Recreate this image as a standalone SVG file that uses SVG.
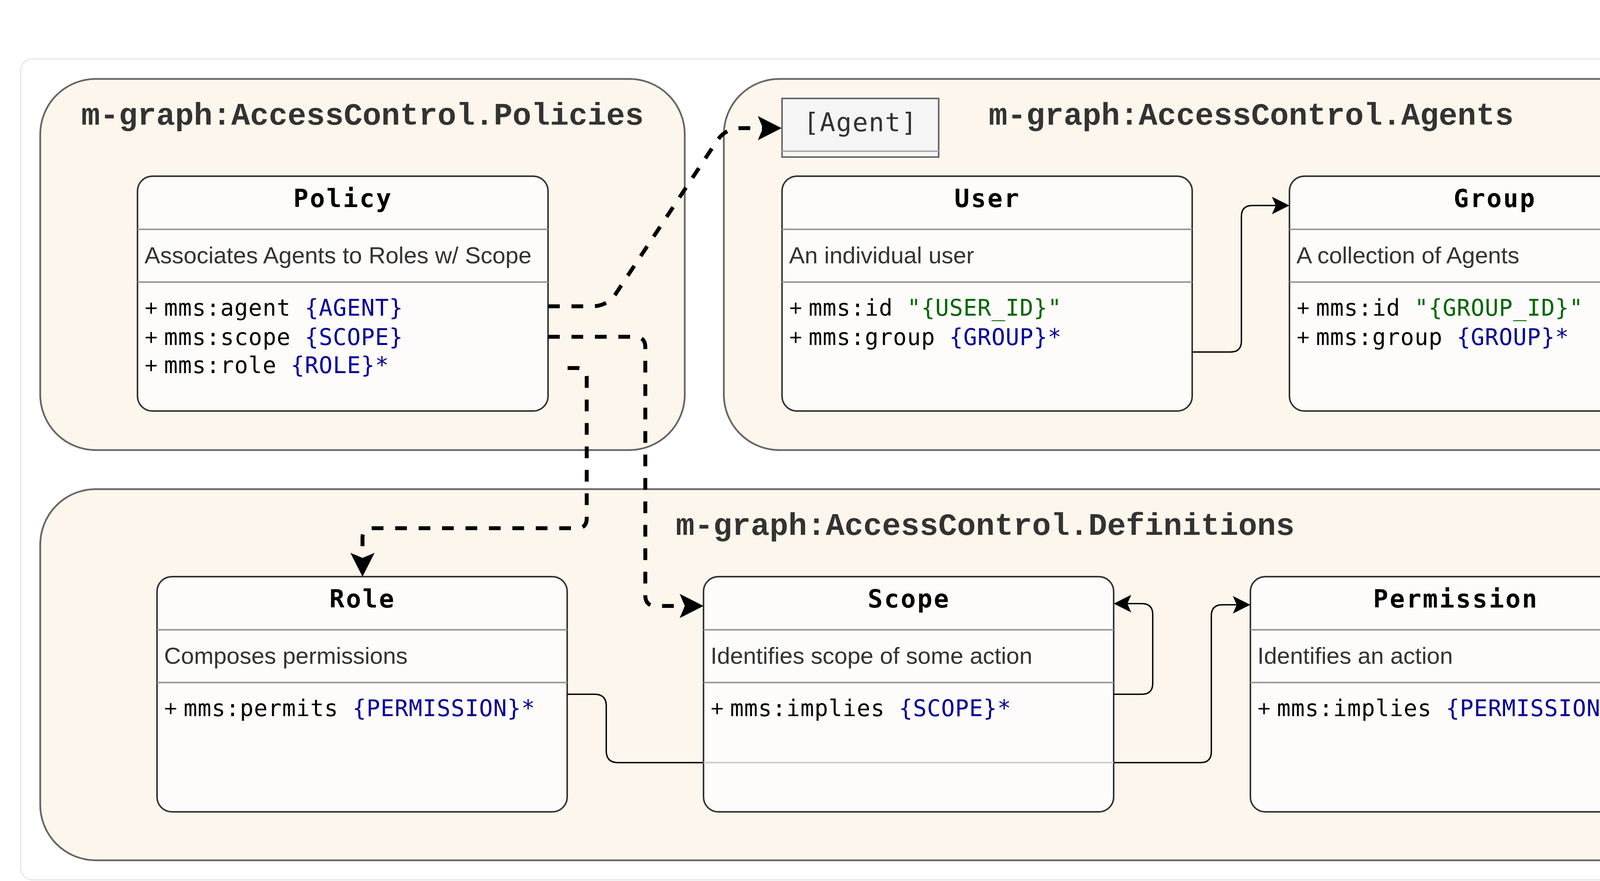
<svg xmlns="http://www.w3.org/2000/svg" width="4605" height="2255" viewBox="0 0 4605 2255">
<defs>
<style>
.frame{fill:#fff;stroke:#e6e6e6;stroke-width:3}
.container{fill:#fdf6ec;stroke:#666;stroke-width:4.5}
.title{font-family:"Liberation Mono","Courier New",monospace;font-weight:bold;font-size:80px;fill:#333}
.box{fill:#fdfcfa;stroke:#333;stroke-width:4}
.sep{stroke:#999;stroke-width:4}
.sep2{stroke:#ccc;stroke-width:4}
.hdr{font-family:"DejaVu Sans Mono",monospace;font-weight:bold;font-size:64px;letter-spacing:3.8px;fill:#000;text-anchor:middle}
.desc{font-family:"Liberation Sans",Arial,sans-serif;font-size:60px;fill:#333}
.attr{font-family:"DejaVu Sans Mono",monospace;font-size:58px;letter-spacing:1.1px;fill:#000}
.plus{font-family:"Liberation Sans",Arial,sans-serif;letter-spacing:0px}
.ref{fill:#000099}
.str{fill:#006600}
.dash{fill:none;stroke:#000;stroke-width:10;stroke-dasharray:30 30}
.solid{fill:none;stroke:#000;stroke-width:3.5}
.agentbox{fill:#f5f5f5;stroke:#666;stroke-width:4}
.agenttxt{font-family:"DejaVu Sans Mono",monospace;font-size:66px;letter-spacing:2px;fill:#333;text-anchor:middle}
</style>
<marker id="bigArrow" markerUnits="userSpaceOnUse" viewBox="-30 -40 90 80" markerWidth="90" markerHeight="80" refX="0" refY="0" orient="auto">
<path d="M48,0 L-13,-31 L0,0 L-13,31 Z" fill="#000"/>
</marker>
<marker id="smallArrow" markerUnits="userSpaceOnUse" viewBox="-20 -30 70 60" markerWidth="70" markerHeight="60" refX="0" refY="0" orient="auto">
<path d="M35,0 L-10,-22.5 L0,0 L-10,22.5 Z" fill="#000"/>
</marker>
</defs>
<rect x="0" y="0" width="4605" height="2255" fill="#fff"/>
<rect class="frame" x="53" y="151" width="4549" height="2101" rx="30"/>

<g id="policies-container">
<rect class="container" x="103" y="202" width="1650" height="950" rx="142"/>
<text class="title" x="928" y="319" text-anchor="middle">m-graph:AccessControl.Policies</text>
</g>
<g id="agents-container">
<rect class="container" x="1853" y="202" width="2699" height="950" rx="142"/>
<text class="title" x="3203" y="319" text-anchor="middle">m-graph:AccessControl.Agents</text>
</g>
<g id="definitions-container">
<rect class="container" x="103" y="1252" width="4449" height="950" rx="142"/>
<text class="title" x="1730" y="1369">m-graph:AccessControl.Definitions</text>
</g>

<g id="agent-ref">
<rect class="agentbox" x="2002" y="252" width="401" height="150"/>
<line x1="2002" y1="387" x2="2403" y2="387" stroke="#aaa" stroke-width="4"/>
<text class="agenttxt" x="2203" y="336">[Agent]</text>
</g>

<g id="policy">
<rect class="box" x="352" y="451" width="1051" height="601" rx="38"/>
<line class="sep" x1="352" y1="587" x2="1403" y2="587"/>
<line class="sep" x1="352" y1="722" x2="1403" y2="722"/>
<text class="hdr" x="878" y="530">Policy</text>
<text class="desc" x="370" y="674">Associates Agents to Roles w/ Scope</text>
<text class="attr" x="370" y="808" xml:space="preserve"><tspan class="plus">+ </tspan>mms:agent <tspan class="ref">{AGENT}</tspan></text>
<text class="attr" x="370" y="883" xml:space="preserve"><tspan class="plus">+ </tspan>mms:scope <tspan class="ref">{SCOPE}</tspan></text>
<text class="attr" x="370" y="955" xml:space="preserve"><tspan class="plus">+ </tspan>mms:role <tspan class="ref">{ROLE}*</tspan></text>
</g>

<g id="user">
<rect class="box" x="2002" y="451" width="1050" height="601" rx="38"/>
<line class="sep" x1="2002" y1="587" x2="3052" y2="587"/>
<line class="sep" x1="2002" y1="722" x2="3052" y2="722"/>
<text class="hdr" x="2528" y="530">User</text>
<text class="desc" x="2020" y="674">An individual user</text>
<text class="attr" x="2020" y="808" xml:space="preserve"><tspan class="plus">+ </tspan>mms:id <tspan class="str">"{USER_ID}"</tspan></text>
<text class="attr" x="2020" y="883" xml:space="preserve"><tspan class="plus">+ </tspan>mms:group <tspan class="ref">{GROUP}*</tspan></text>
</g>

<g id="group">
<rect class="box" x="3301" y="451" width="1050" height="601" rx="38"/>
<line class="sep" x1="3301" y1="587" x2="4351" y2="587"/>
<line class="sep" x1="3301" y1="722" x2="4351" y2="722"/>
<text class="hdr" x="3827" y="530">Group</text>
<text class="desc" x="3319" y="674">A collection of Agents</text>
<text class="attr" x="3319" y="808" xml:space="preserve"><tspan class="plus">+ </tspan>mms:id <tspan class="str">"{GROUP_ID}"</tspan></text>
<text class="attr" x="3319" y="883" xml:space="preserve"><tspan class="plus">+ </tspan>mms:group <tspan class="ref">{GROUP}*</tspan></text>
</g>

<g id="role">
<rect class="box" x="402" y="1476" width="1050" height="602" rx="38"/>
<line class="sep" x1="402" y1="1612" x2="1452" y2="1612"/>
<line class="sep" x1="402" y1="1747" x2="1452" y2="1747"/>
<text class="hdr" x="928" y="1555">Role</text>
<text class="desc" x="420" y="1699">Composes permissions</text>
<text class="attr" x="420" y="1833" xml:space="preserve"><tspan class="plus">+ </tspan>mms:permits <tspan class="ref">{PERMISSION}*</tspan></text>
</g>

<g id="scope">
<rect class="box" x="1801" y="1476" width="1050" height="602" rx="38"/>
<line class="sep" x1="1801" y1="1612" x2="2851" y2="1612"/>
<line class="sep" x1="1801" y1="1747" x2="2851" y2="1747"/>
<line class="sep2" x1="1801" y1="1952" x2="2851" y2="1952"/>
<text class="hdr" x="2327" y="1555">Scope</text>
<text class="desc" x="1819" y="1699">Identifies scope of some action</text>
<text class="attr" x="1819" y="1833" xml:space="preserve"><tspan class="plus">+ </tspan>mms:implies <tspan class="ref">{SCOPE}*</tspan></text>
</g>

<g id="permission">
<rect class="box" x="3201" y="1476" width="1050" height="602" rx="38"/>
<line class="sep" x1="3201" y1="1612" x2="4251" y2="1612"/>
<line class="sep" x1="3201" y1="1747" x2="4251" y2="1747"/>
<text class="hdr" x="3727" y="1555">Permission</text>
<text class="desc" x="3219" y="1699">Identifies an action</text>
<text class="attr" x="3219" y="1833" xml:space="preserve"><tspan class="plus">+ </tspan>mms:implies <tspan class="ref">{PERMISSION}*</tspan></text>
</g>

<g id="connectors">
<path class="dash" d="M1403 784 H1515 Q1555 784 1577 751 L1835 361 Q1857 328 1897 328 H1953" marker-end="url(#bigArrow)"/>
<path class="dash" d="M1403 862 H1625 Q1652 862 1652 889 V1524 Q1652 1551 1679 1551 H1753" marker-end="url(#bigArrow)"/>
<path class="dash" d="M1453 942 H1477 Q1502 942 1502 967 V1327 Q1502 1352 1477 1352 H953 Q928 1352 928 1377 V1428" marker-end="url(#bigArrow)"/>
<path class="solid" d="M3052 901 H3150 Q3178 901 3178 873 V554 Q3178 526 3206 526 H3266" marker-end="url(#smallArrow)"/>
<path class="solid" d="M4351 901 H4425 Q4453 901 4453 873 V550 Q4453 522 4425 522 H4386" marker-end="url(#smallArrow)"/>
<path class="solid" d="M1452 1777 H1522 Q1552 1777 1552 1807 V1922 Q1552 1952 1582 1952 H1801"/>
<path class="solid" d="M2851 1777 H2923 Q2951 1777 2951 1749 V1573 Q2951 1545 2923 1545 H2886" marker-end="url(#smallArrow)"/>
<path class="solid" d="M2851 1952 H3073 Q3101 1952 3101 1924 V1576 Q3101 1548 3129 1548 H3166" marker-end="url(#smallArrow)"/>
<path class="solid" d="M4251 1777 H4324 Q4352 1777 4352 1749 V1566 Q4352 1538 4324 1538 H4286" marker-end="url(#smallArrow)"/>
</g>
</svg>
